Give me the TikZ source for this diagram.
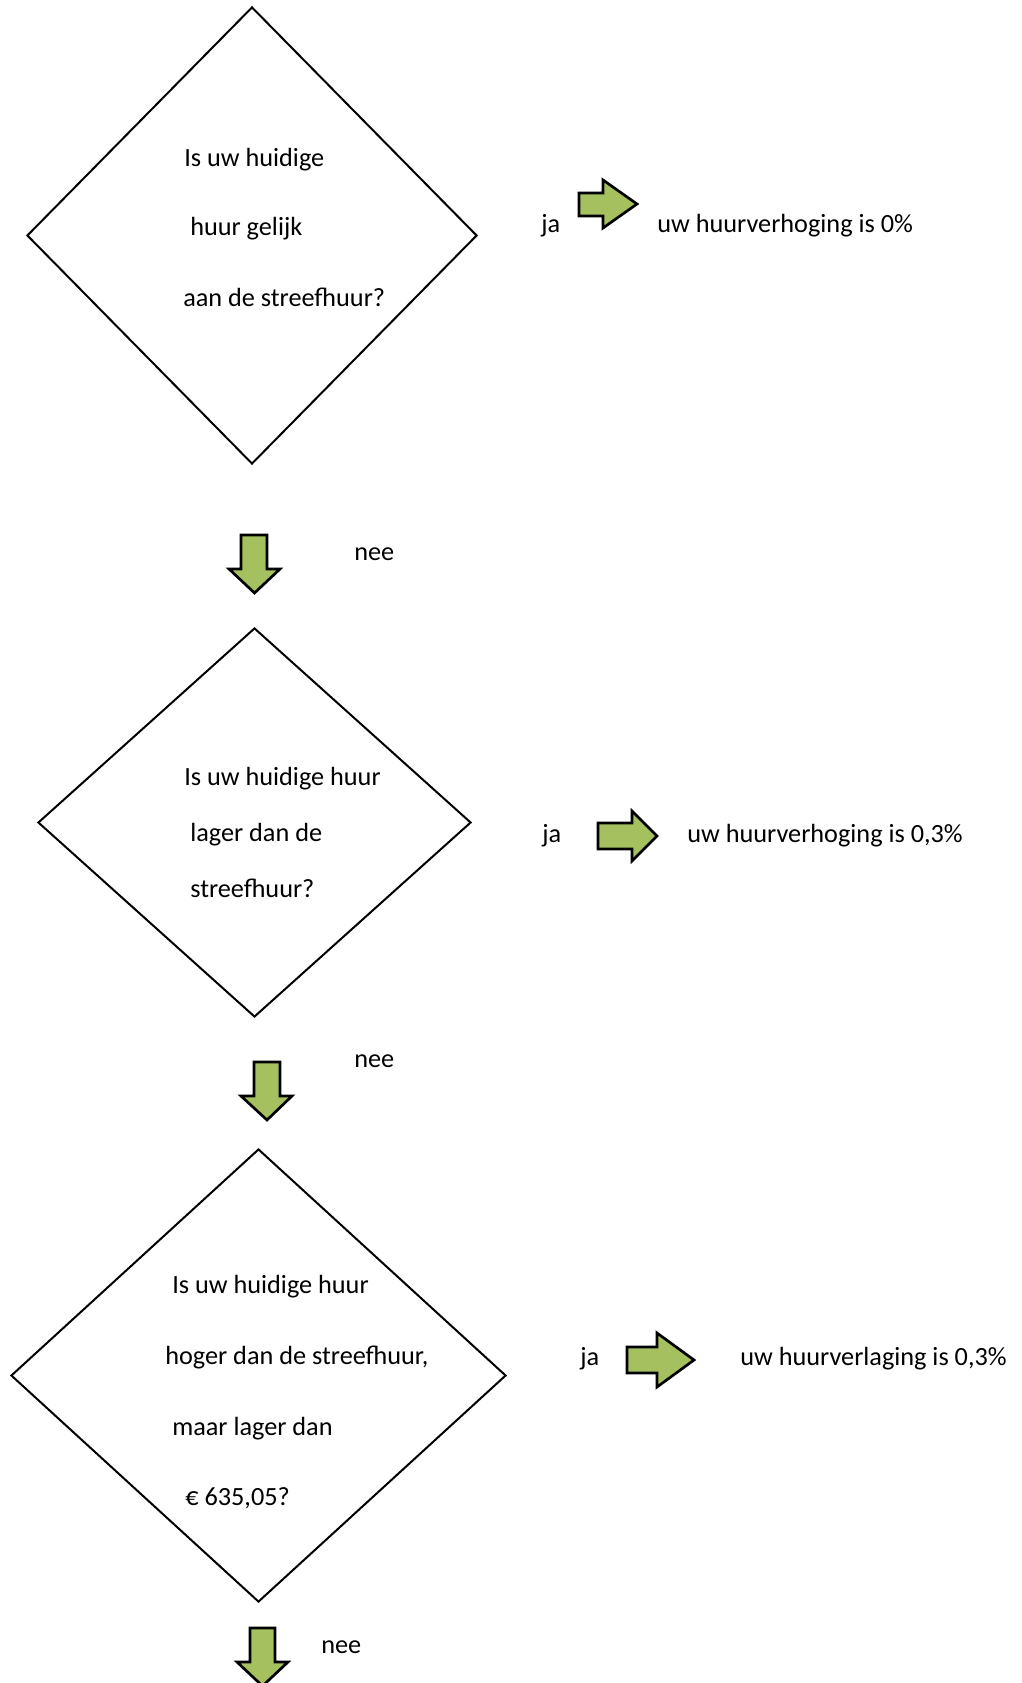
\documentclass[tikz,border=0pt]{standalone}
\usepackage{fontspec}
\setmainfont{Carlito}
\usetikzlibrary{shapes.geometric}
\definecolor{arrowgreen}{HTML}{A5C05E}
\tikzset{
  dia/.style={shape=diamond, draw=black, line width=1.5pt, inner sep=0pt, line join=miter},
  txt/.style={anchor=base west, inner sep=0pt, font=\fontsize{19.7pt}{24pt}\selectfont},
  blockarrow/.style={draw=black, line width=2pt, fill=arrowgreen, line join=miter}
}
\begin{document}
\begin{tikzpicture}[x=0.75pt, y=-0.75pt]
\useasboundingbox (0,0) rectangle (1021,1683);
\clip (0,0) rectangle (1021,1683);
% diamonds
\node[dia, minimum width=337.5pt, minimum height=342.75pt] (d1) at (252,235.5) {};
\node[dia, minimum width=324.75pt, minimum height=291.75pt] (d2) at (254.5,822.5) {};
\node[dia, minimum width=371.25pt, minimum height=339.75pt] (d3) at (258.5,1375.5) {};
% diamond texts
\node[txt] (d1a) at (184,167) {Is uw huidige};
\node[txt] (d1b) at (190,236) {huur gelijk};
\node[txt] (d1c) at (183,307) {aan de streefhuur?};
\node[txt] (d2a) at (184,785) {Is uw huidige huur};
\node[txt] (d2b) at (190,841) {lager dan de};
\node[txt] (d2c) at (190,897) {streefhuur?};
\node[txt] (d3a) at (172,1293) {Is uw huidige huur};
\node[txt] (d3b) at (165,1364) {hoger dan de streefhuur,};
\node[txt] (d3c) at (172,1435) {maar lager dan};
\node[txt] (d3d) at (185,1505) {€ 635,05?};
% right arrows
\draw[blockarrow] (579,193) -- (603,193) -- (603,180) -- (637,204) -- (603,228) -- (603,216) -- (579,216) -- cycle;
\draw[blockarrow] (598,823) -- (632,823) -- (632,811) -- (657,836) -- (632,861) -- (632,849) -- (598,849) -- cycle;
\draw[blockarrow] (627,1347) -- (657,1347) -- (657,1333) -- (694,1360) -- (657,1387) -- (657,1373) -- (627,1373) -- cycle;
% down arrows
\draw[blockarrow] (241,535) -- (267,535) -- (267,569) -- (280,569) -- (254.5,593) -- (229,569) -- (241,569) -- cycle;
\draw[blockarrow] (254,1062) -- (280,1062) -- (280,1096) -- (292,1096) -- (267,1120) -- (241,1096) -- (254,1096) -- cycle;
\draw[blockarrow] (250,1628) -- (275,1628) -- (275,1662) -- (288,1662) -- (262.5,1686) -- (237,1662) -- (250,1662) -- cycle;
% labels
\node[txt] (ja1) at (541,233) {ja};
\node[txt] (r1) at (657,233) {uw huurverhoging is 0\%};
\node[txt] (ja2) at (542,842) {ja};
\node[txt] (r2) at (687,842) {uw huurverhoging is 0,3\%};
\node[txt] (ja3) at (580,1365) {ja};
\node[txt] (r3) at (740,1365) {uw huurverlaging is 0,3\%};
\node[txt] (nee1) at (354,560) {nee};
\node[txt] (nee2) at (354,1067) {nee};
\node[txt] (nee3) at (321,1653) {nee};
\end{tikzpicture}
\end{document}
